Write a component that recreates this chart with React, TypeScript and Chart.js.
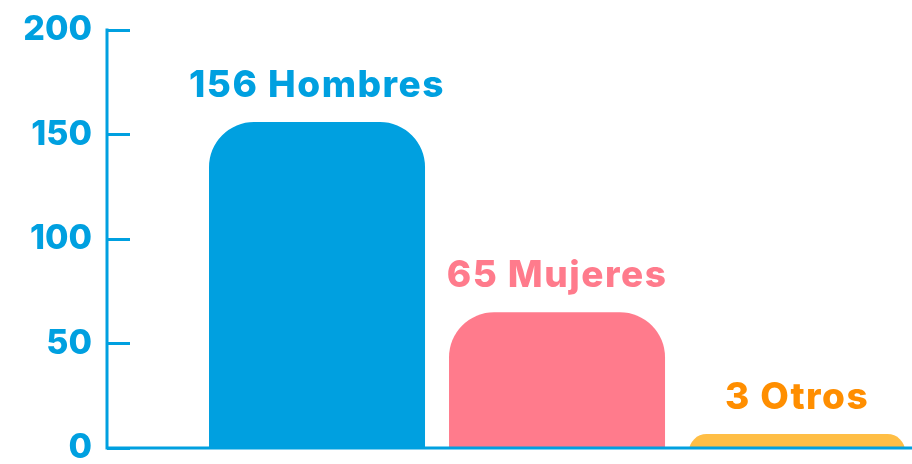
import React, { useEffect, useRef } from "react";
import { Chart, registerables } from "chart.js";

Chart.register(...registerables);

const categories = ["Hombres", "Mujeres", "Otros"];
const values = [156, 65, 3];
const barColors = ["#00A0E0", "#FF7B8C", "#FFBE45"];
const labelColors = ["#00A0E0", "#FF7B8C", "#FF8E00"];
const yTicks = [0, 50, 100, 150, 200];

const AXIS = "#00A0E0";
const FONT = "Inter, 'Noto Sans', sans-serif";

export default function App() {
  const ref = useRef<HTMLCanvasElement | null>(null);

  useEffect(() => {
    const canvas = ref.current;
    if (!canvas) return;

    const barLabels = {
      id: "barLabels",
      afterDatasetsDraw(chart: any) {
        const ctx = chart.ctx;
        const meta = chart.getDatasetMeta(0);
        ctx.save();
        ctx.font = `800 37px ${FONT}`;
        (ctx as any).letterSpacing = "1.5px";
        ctx.textAlign = "center";
        ctx.textBaseline = "alphabetic";
        meta.data.forEach((el: any, i: number) => {
          ctx.fillStyle = labelColors[i];
          ctx.fillText(`${values[i]} ${categories[i]}`, el.x, el.y - 25);
        });
        ctx.restore();
      },
    };

    const axisLines = {
      id: "axisLines",
      afterDraw(chart: any) {
        const ctx = chart.ctx;
        const { left } = chart.chartArea;
        const yScale = chart.scales.y;
        const top = yScale.getPixelForValue(yTicks[yTicks.length - 1]);
        const zero = yScale.getPixelForValue(0);
        const lineX = left - 23;
        ctx.save();
        ctx.strokeStyle = AXIS;
        ctx.lineWidth = 3;
        ctx.beginPath();
        ctx.moveTo(lineX, top - 1.5);
        ctx.lineTo(lineX, zero);
        ctx.lineTo(chart.width, zero);
        ctx.stroke();
        ctx.restore();
      },
    };

    const chart = new Chart(canvas, {
      type: "bar",
      data: {
        datasets: [
          {
            data: values.map((v, i) => ({ x: i + 1, y: v })),
            backgroundColor: barColors,
            borderWidth: 0,
            borderRadius: 45,
            borderSkipped: "start",
            base: -10,
            minBarLength: 35,
            barPercentage: 0.9,
            categoryPercentage: 1,
            clip: { left: 0, top: 0, right: 0, bottom: -21 },
          },
        ],
      },
      options: {
        animation: false,
        responsive: false,
        layout: { padding: { top: 30, bottom: 0, left: 0, right: 0 } },
        plugins: {
          legend: { display: false },
          tooltip: { enabled: false },
        },
        scales: {
          x: {
            type: "linear",
            display: false,
            offset: false,
            bounds: "data",
            min: 0.2208,
            max: 3.479,
            grid: { offset: false },
            afterBuildTicks(scale: any) {
              scale.ticks = categories.map((_, i) => ({ value: i + 1 }));
            },
          },
          y: {
            min: -10,
            max: 200,
            afterBuildTicks(scale: any) {
              scale.ticks = yTicks.map((v) => ({ value: v }));
            },
            afterFit(scale: any) {
              scale.width = 130;
              scale.paddingTop = 0;
              scale.paddingBottom = 0;
            },
            border: { display: false },
            grid: {
              drawOnChartArea: false,
              drawTicks: true,
              tickLength: 23,
              lineWidth: 3,
              tickColor: AXIS,
              color: AXIS,
            },
            ticks: {
              color: AXIS,
              padding: 15,
              font: { family: FONT, size: 34, weight: 800 },
            },
          },
        },
      },
      plugins: [barLabels, axisLines],
    });

    return () => chart.destroy();
  }, []);

  return (
    <div style={{ position: "absolute", left: 0, top: 0, width: 912, height: 464, overflow: "hidden", background: "#fff" }}>
      <canvas ref={ref} width={912} height={469} style={{ display: "block" }} />
    </div>
  );
}
